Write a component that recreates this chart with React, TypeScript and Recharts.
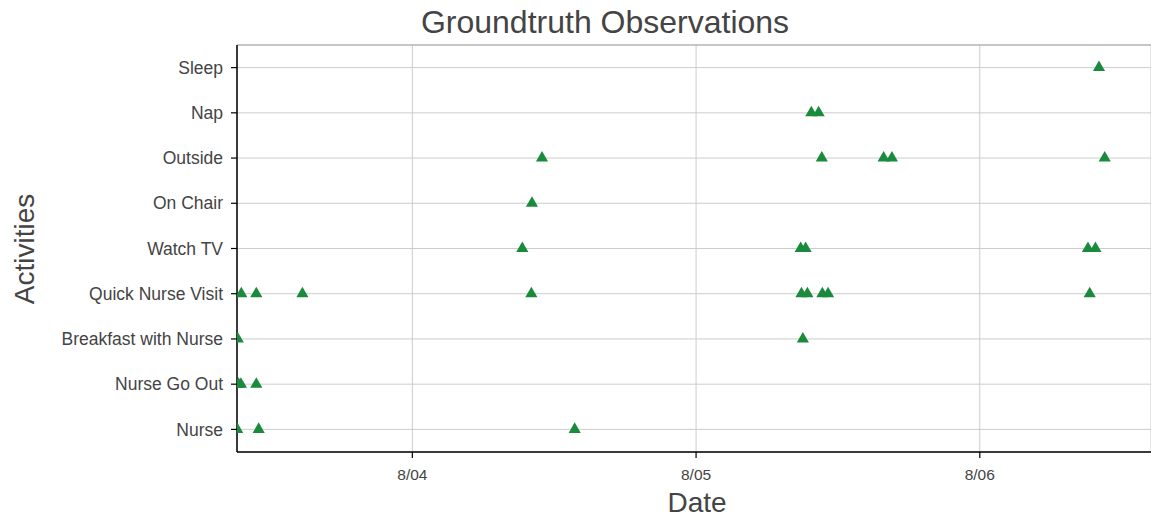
import React from 'react';
import { ScatterChart, Scatter, XAxis, YAxis, ZAxis, CartesianGrid, ReferenceLine } from 'recharts';

// Activity categories, bottom to top
const activities = [
  'Nurse',
  'Nurse Go Out',
  'Breakfast with Nurse',
  'Quick Nurse Visit',
  'Watch TV',
  'On Chair',
  'Outside',
  'Nap',
  'Sleep',
];

// Observation times per activity (month/day hh:mm)
const nurseTimes = ['8/03 09:11', '8/03 11:00', '8/04 13:44'];
const nurseGoOutTimes = ['8/03 09:18', '8/03 09:30', '8/03 10:48'];
const breakfastTimes = ['8/03 09:14', '8/05 09:02'];
const quickVisitTimes = ['8/03 09:32', '8/03 10:48', '8/03 14:42', '8/04 10:04', '8/05 08:55', '8/05 09:25', '8/05 10:41', '8/05 11:10', '8/06 09:18'];
const watchTvTimes = ['8/04 09:18', '8/05 08:51', '8/05 09:16', '8/06 09:09', '8/06 09:47'];
const onChairTimes = ['8/04 10:07'];
const outsideTimes = ['8/04 10:58', '8/05 10:38', '8/05 15:52', '8/05 16:34', '8/06 10:34'];
const napTimes = ['8/05 09:45', '8/05 10:22'];
const sleepTimes = ['8/06 10:05'];

const xTickLabels = ['8/04', '8/05', '8/06'];
const xRange = ['8/03 09:10', '8/06 14:29'];

const YEAR = 2017;
function parseTime(s: string): number {
  const [md, hm] = s.split(' ');
  const [m, d] = md.split('/').map(Number);
  const [h, mi] = (hm || '00:00').split(':').map(Number);
  return new Date(YEAR, m - 1, d, h, mi).getTime();
}

const seriesTimes = [
  nurseTimes,
  nurseGoOutTimes,
  breakfastTimes,
  quickVisitTimes,
  watchTvTimes,
  onChairTimes,
  outsideTimes,
  napTimes,
  sleepTimes,
];

const points = seriesTimes.flatMap((times, idx) =>
  times.map((t) => ({ t: parseTime(t), y: idx }))
);

const xTicks = xTickLabels.map((l) => parseTime(l + ' 00:00'));
const xDomain = xRange.map(parseTime);
const yTicks = activities.map((_, i) => i);

const W = 1151;
const H = 519;
const FONT = '"Liberation Sans", Arial, Helvetica, sans-serif';
const TEXT = '#444444';

export default function App() {
  return (
    <div style={{ position: 'absolute', left: 0, top: 0, width: W, height: H, background: '#fff' }}>
      <ScatterChart width={W} height={H} margin={{ top: 45, right: 0, bottom: 0, left: 0 }}>
        <CartesianGrid stroke="#cccccc" strokeWidth={1} />
        <ReferenceLine y={8.5} stroke="#a8a8a8" strokeWidth={1.2} />
        <XAxis
          type="number"
          dataKey="t"
          domain={xDomain}
          ticks={xTicks}
          allowDataOverflow
          height={67}
          tickSize={6}
          tickMargin={11}
          tickLine={{ stroke: '#000', strokeWidth: 1.2 }}
          axisLine={{ stroke: '#000', strokeWidth: 1.5 }}
          tick={{ fill: TEXT, fontSize: 15.5, fontFamily: FONT }}
          tickFormatter={(v: number) => {
            const d = new Date(v);
            return `${d.getMonth() + 1}/${String(d.getDate()).padStart(2, '0')}`;
          }}
        />
        <YAxis
          type="number"
          dataKey="y"
          domain={[-0.5, 8.5]}
          ticks={yTicks}
          allowDataOverflow
          width={237}
          tickSize={6}
          tickMargin={8}
          tickLine={{ stroke: '#000', strokeWidth: 1.2 }}
          axisLine={{ stroke: '#000', strokeWidth: 1.5 }}
          tick={{ fill: TEXT, fontSize: 17.5, fontFamily: FONT }}
          tickFormatter={(v: number) => activities[v] ?? ''}
        />
        <ZAxis type="number" range={[45, 45]} />
        <Scatter data={points} shape="triangle" fill="#1a8a3c" isAnimationActive={false} />
      </ScatterChart>
      <svg width={W} height={H} style={{ position: 'absolute', left: 0, top: 0, pointerEvents: 'none' }}>
        <text x={605} y={33} textAnchor="middle" fontSize={32} fontFamily={FONT} fill={TEXT}>
          Groundtruth Observations
        </text>
        <text x={697} y={512} textAnchor="middle" fontSize={28} fontFamily={FONT} fill={TEXT}>
          Date
        </text>
        <text
          x={34}
          y={249}
          textAnchor="middle"
          fontSize={28}
          fontFamily={FONT}
          fill={TEXT}
          transform="rotate(-90 34 249)"
        >
          Activities
        </text>
      </svg>
    </div>
  );
}
